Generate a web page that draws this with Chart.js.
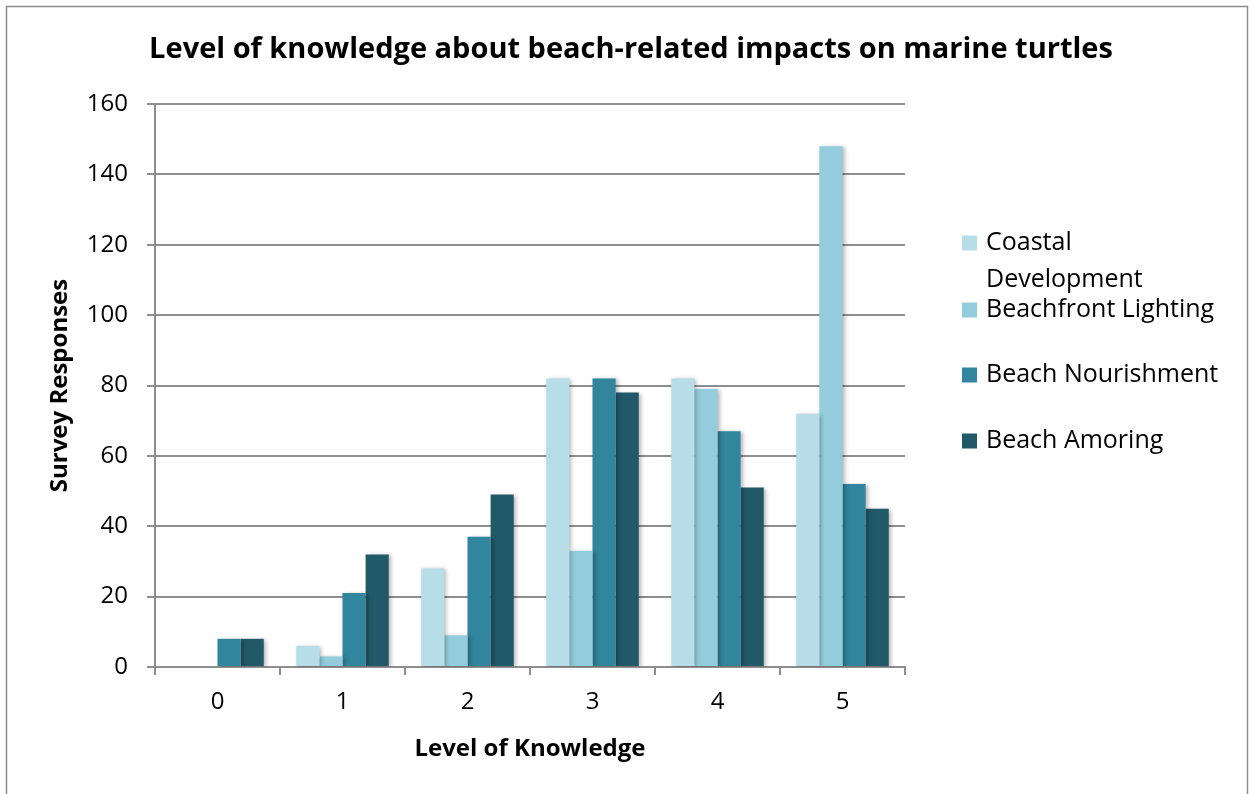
<!DOCTYPE html>
<html>
<head>
    <title>Level of knowledge about beach-related impacts on marine turtles</title>
    <script src="https://cdn.jsdelivr.net/npm/chart.js"></script>
    <style>
        html, body { margin: 0; padding: 0; background: #fff; }
        #wrap { width: 1253px; height: 794px; position: relative; }
    </style>
</head>
<body>
    <div id="wrap">
        <canvas id="knowChart" width="1253" height="794"></canvas>
    </div>

    <script>
        // data
        const levels = ['0', '1', '2', '3', '4', '5'];
        const coastalDev = [0, 6, 28, 82, 82, 72];
        const beachLighting = [0, 3, 9, 33, 79, 148];
        const beachNourish = [8, 21, 37, 82, 67, 52];
        const beachArmoring = [8, 32, 49, 78, 51, 45];
        const seriesNames = ['Coastal Development', 'Beachfront Lighting', 'Beach Nourishment', 'Beach Amoring'];
        const legendLines = [['Coastal', 'Development'], ['Beachfront Lighting'], ['Beach Nourishment'], ['Beach Amoring']];
        const colors = ['#b7dde8', '#93cddd', '#31859c', '#215968'];
        const chartTitle = 'Level of knowledge about beach-related impacts on marine turtles';

        const FONT = '"Open Sans", "Noto Sans", sans-serif';
        const gridGray = '#8e8e8e';

        // frame, white background and the title (centred on the whole canvas)
        const framePlugin = {
            id: 'frame',
            beforeDraw(chart) {
                const c = chart.ctx;
                c.save();
                c.fillStyle = '#fff';
                c.fillRect(0, 0, chart.width, chart.height);
                c.strokeStyle = '#8c8c8c';
                c.lineWidth = 1.5;
                c.strokeRect(6.5, 6.5, chart.width - 12, chart.height + 10);
                c.fillStyle = '#000';
                c.font = 'bold 29px ' + FONT;
                c.textAlign = 'center';
                c.textBaseline = 'middle';
                c.fillText(chartTitle, 631, 50);
                c.restore();
            }
        };

        // soft drop shadow on bars, like the office chart
        const shadowPlugin = {
            id: 'barShadow',
            beforeDatasetsDraw(chart) {
                const c = chart.ctx;
                c.save();
                c.shadowColor = 'rgba(0,0,0,0.28)';
                c.shadowBlur = 4;
                c.shadowOffsetX = 2;
                c.shadowOffsetY = 1;
            },
            afterDatasetsDraw(chart) {
                chart.ctx.restore();
            }
        };

        // legend on the right, with wrapped first entry
        const sideLegend = {
            id: 'sideLegend',
            afterDraw(chart) {
                const c = chart.ctx;
                const x = 962, boxSize = 15, textX = 986;
                const rows = [243, 310, 375, 441];
                const lineGap = 37;
                c.save();
                c.font = '25px ' + FONT;
                c.textBaseline = 'middle';
                c.textAlign = 'left';
                chart.data.datasets.forEach((ds, i) => {
                    const y = rows[i];
                    c.fillStyle = ds.backgroundColor;
                    c.fillRect(x, y - boxSize / 2, boxSize, boxSize);
                    c.fillStyle = '#000';
                    legendLines[i].forEach((ln, j) => {
                        c.fillText(ln, textX, y + j * lineGap);
                    });
                });
                c.restore();
            }
        };

        const ctx = document.getElementById('knowChart').getContext('2d');
        new Chart(ctx, {
            type: 'bar',
            data: {
                labels: levels,
                datasets: [coastalDev, beachLighting, beachNourish, beachArmoring].map((vals, i) => ({
                    label: seriesNames[i],
                    data: vals,
                    backgroundColor: colors[i],
                    borderWidth: 0,
                    categoryPercentage: 0.74,
                    barPercentage: 1.0
                }))
            },
            options: {
                responsive: false,
                animation: false,
                layout: { padding: { left: 0, right: 348, top: 104, bottom: 0 } },
                plugins: {
                    legend: { display: false },
                    tooltip: { enabled: false },
                    title: { display: false }
                },
                scales: {
                    x: {
                        afterFit(scale) { scale.height = 127; },
                        grid: {
                            drawOnChartArea: false,
                            drawTicks: true,
                            tickLength: 8,
                            color: gridGray,
                            lineWidth: 2
                        },
                        border: { display: true, color: gridGray, width: 2 },
                        ticks: {
                            color: '#000',
                            padding: 13,
                            font: { family: FONT, size: 24 }
                        },
                        title: {
                            display: true,
                            text: 'Level of Knowledge',
                            color: '#000',
                            font: { family: FONT, size: 24, weight: 'bold' },
                            padding: { top: 0, bottom: 30 }
                        }
                    },
                    y: {
                        min: 0,
                        max: 160,
                        afterFit(scale) { scale.width = 155; },
                        grid: {
                            color: gridGray,
                            lineWidth: 2,
                            tickLength: 8
                        },
                        border: { display: true, color: gridGray, width: 2 },
                        ticks: {
                            stepSize: 20,
                            color: '#000',
                            padding: 19,
                            font: { family: FONT, size: 24 }
                        },
                        title: {
                            display: true,
                            text: 'Survey Responses',
                            color: '#000',
                            font: { family: FONT, size: 24, weight: 'bold' },
                            padding: { top: 46, bottom: 0 }
                        }
                    }
                }
            },
            plugins: [framePlugin, shadowPlugin, sideLegend]
        });
    </script>
</body>
</html>
